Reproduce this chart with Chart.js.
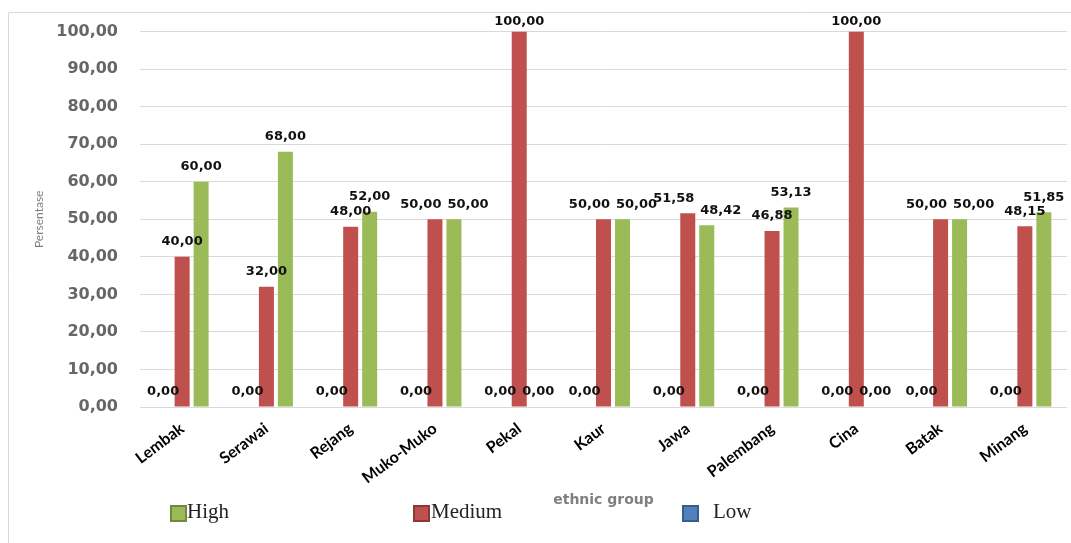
<!DOCTYPE html>
<html>
<head>
<meta charset="utf-8">
<script src="https://cdn.jsdelivr.net/npm/chart.js@4/dist/chart.umd.min.js"></script>
<style>
  body { margin: 0; background: #fff; }
  #wrap { width: 1071px; height: 543px; }
</style>
</head>
<body>
<div id="wrap"><canvas id="ethnicChart" width="1071" height="543"></canvas></div>
<script>
const groups = ['Lembak', 'Serawai', 'Rejang', 'Muko-Muko', 'Pekal', 'Kaur', 'Jawa', 'Palembang', 'Cina', 'Batak', 'Minang'];
const lowVals = [0, 0, 0, 0, 0, 0, 0, 0, 0, 0, 0];
const mediumVals = [40, 32, 48, 50, 100, 50, 51.58, 46.88, 100, 50, 48.15];
const highVals = [60, 68, 52, 50, 0, 50, 48.42, 53.13, 0, 50, 51.85];
const legendOrder = ['High', 'Medium', 'Low'];

const colors = { Low: '#4F81BD', Medium: '#C0504D', High: '#9BBB59' };
const edges = { Low: '#385D8A', Medium: '#8C3836', High: '#71893F' };

// decimal comma, two places
const fmt = v => Number(v).toFixed(2).replace('.', ',');

// thin grey frame on the top and left edges
const frame = {
    id: 'frame',
    beforeDraw(chart) {
        const ctx = chart.ctx;
        ctx.save();
        ctx.strokeStyle = '#d9d9d9';
        ctx.lineWidth = 1;
        ctx.beginPath();
        ctx.moveTo(8.5, chart.height);
        ctx.lineTo(8.5, 12.5);
        ctx.lineTo(chart.width, 12.5);
        ctx.stroke();
        ctx.restore();
    }
};

// value labels over every bar, medium/high pushed apart if they collide
const valueLabels = {
    id: 'valueLabels',
    afterDatasetsDraw(chart) {
        const ctx = chart.ctx;
        ctx.save();
        ctx.font = 'bold 13px "DejaVu Sans"';
        ctx.fillStyle = '#111';
        ctx.textAlign = 'center';
        ctx.textBaseline = 'middle';
        for (let i = 0; i < chart.data.labels.length; i++) {
            const items = chart.data.datasets.map((ds, d) => {
                const bar = chart.getDatasetMeta(d).data[i];
                const text = fmt(ds.data[i]);
                return { text, x: bar.x, y: Math.max(bar.y - 15, 22), w: ctx.measureText(text).width };
            });
            const a = items[1], b = items[2];
            if (Math.abs(a.y - b.y) < 13) {
                const overlap = (a.w + b.w) / 2 - (b.x - a.x) + 6;
                if (overlap > 0) { a.x -= overlap / 2; b.x += overlap / 2; }
            }
            items.forEach(it => ctx.fillText(it.text, it.x, it.y));
        }
        ctx.restore();
    }
};

// legend row under the axis title
const legendBoxes = {
    id: 'legendBoxes',
    afterDraw(chart) {
        const ctx = chart.ctx;
        const spots = { High: [170, 187], Medium: [413, 431], Low: [682, 713] };
        ctx.save();
        ctx.font = '21px "Liberation Serif"';
        ctx.textBaseline = 'middle';
        ctx.textAlign = 'left';
        legendOrder.forEach(name => {
            const [bx, tx] = spots[name];
            ctx.fillStyle = colors[name];
            ctx.strokeStyle = edges[name];
            ctx.lineWidth = 2;
            ctx.fillRect(bx + 1, 506, 15, 15);
            ctx.strokeRect(bx + 1, 506, 15, 15);
            ctx.fillStyle = '#222';
            ctx.fillText(name, tx, 512);
        });
        ctx.restore();
    }
};

new Chart(document.getElementById('ethnicChart'), {
    type: 'bar',
    data: {
        labels: groups,
        datasets: [
            { label: 'Low', data: lowVals, backgroundColor: colors.Low },
            { label: 'Medium', data: mediumVals, backgroundColor: colors.Medium },
            { label: 'High', data: highVals, backgroundColor: colors.High }
        ]
    },
    options: {
        responsive: false,
        animation: false,
        datasets: { bar: { categoryPercentage: 0.676, barPercentage: 0.79 } },
        layout: { padding: { top: 29, right: 4, left: 0, bottom: 0 } },
        plugins: { legend: { display: false }, tooltip: { enabled: false } },
        scales: {
            x: {
                grid: { display: false },
                border: { display: false },
                ticks: {
                    color: '#000',
                    font: { family: 'Lato', weight: 'bold', size: 16 },
                    maxRotation: 37, minRotation: 37, padding: 4
                },
                title: {
                    display: true, text: 'ethnic group', color: '#7f7f7f',
                    font: { family: 'DejaVu Sans', weight: 'bold', size: 14 },
                    padding: { top: 0, bottom: 34 }
                },
                afterFit: s => { s.height = 136; }
            },
            y: {
                min: 0, max: 100,
                ticks: {
                    stepSize: 10, padding: 22, color: '#666',
                    font: { family: 'DejaVu Sans', weight: 'bold', size: 16 },
                    callback: v => fmt(v)
                },
                grid: { color: '#d9d9d9', drawTicks: false },
                border: { display: false },
                title: {
                    display: true, text: 'Persentase', color: '#7f7f7f',
                    font: { family: 'Lato', size: 12 },
                    padding: { top: 32, bottom: 0 }
                },
                afterFit: s => { s.width = 140; }
            }
        }
    },
    plugins: [frame, valueLabels, legendBoxes]
});
</script>
</body>
</html>
